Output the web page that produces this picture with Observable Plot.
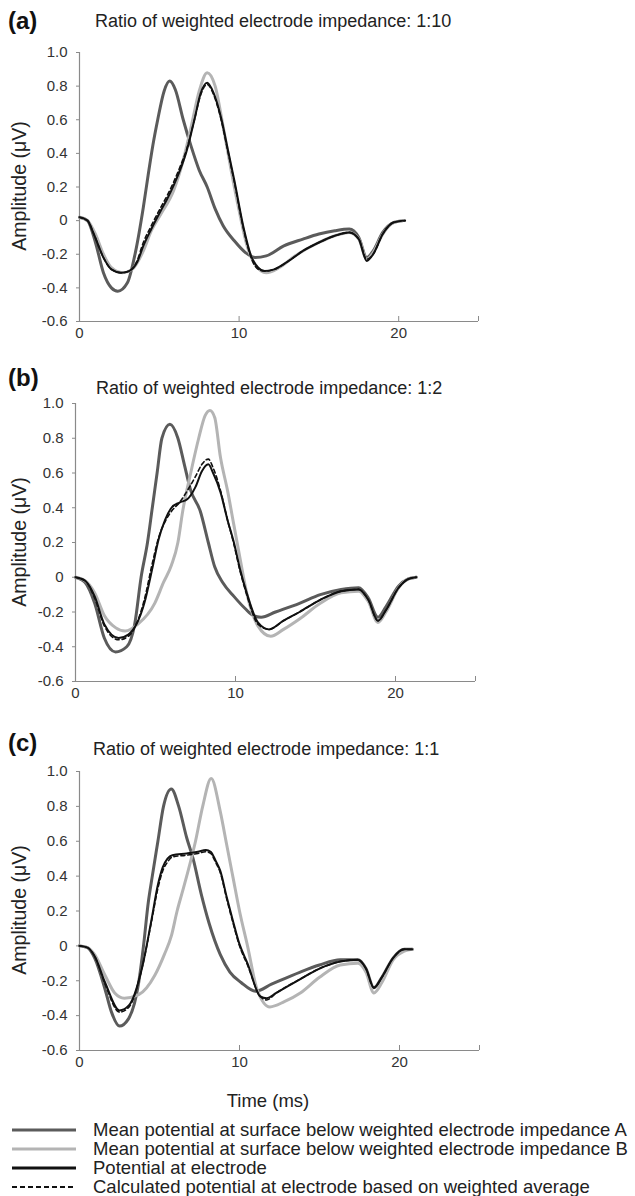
<!DOCTYPE html>
<html><head><meta charset="utf-8">
<script src="https://cdn.jsdelivr.net/npm/d3@7"></script>
<script src="https://cdn.jsdelivr.net/npm/@observablehq/plot@0.6"></script>
<style>
body{margin:0;background:#fff;}
#root{position:relative;width:635px;height:1196px;font-family:Arial,"Liberation Sans",Helvetica,sans-serif;color:#222;overflow:hidden;background:#fff;}
.abs{position:absolute;white-space:nowrap;line-height:1;}
.plabel{font-weight:bold;font-size:24px;color:#111;}
.title{font-size:18px;color:#222;}
.ylab{font-size:19.5px;color:#222;transform:translate(-50%,-50%) rotate(-90deg);}
.leg{font-size:18.5px;color:#222;}
#root svg.plot{position:absolute;left:0;}
</style></head><body><div id="root"></div>
<script>
// ---------- data ----------
const xDomain = [0, 25];
const yDomain = [-0.6, 1.0];
const yTicks = [-0.6, -0.4, -0.2, 0, 0.2, 0.4, 0.6, 0.8, 1.0];
const xTicks = [0, 10, 20, 25];
const xTickLabels = ["0", "10", "20", ""];
const panelLetters = ["(a)", "(b)", "(c)"];
const panelTitles = [
  "Ratio of weighted electrode impedance: 1:10",
  "Ratio of weighted electrode impedance: 1:2",
  "Ratio of weighted electrode impedance: 1:1"
];
const yLabel = "Amplitude (\u03bcV)";
const xLabel = "Time (ms)";
const seriesKeys = ["A", "B", "E", "D"];
const legendLabels = [
  "Mean potential at surface below weighted electrode impedance A",
  "Mean potential at surface below weighted electrode impedance B",
  "Potential at electrode",
  "Calculated potential at electrode based on weighted average"
];

// panel (a) 1:10  [time ms, amplitude uV]
const a_A = [[0,0.02],[0.5,0.0],[1.0,-0.13],[1.5,-0.31],[2.0,-0.40],[2.4,-0.42],[3.0,-0.37],[3.5,-0.19],[4.0,0.08],[4.3,0.27],[4.6,0.45],[4.9,0.6],[5.3,0.77],[5.65,0.83],[6.0,0.78],[6.5,0.6],[7.0,0.44],[7.5,0.3],[8.0,0.2],[8.5,0.07],[9.0,-0.03],[9.7,-0.12],[10.4,-0.19],[11.0,-0.22],[11.7,-0.21],[12.8,-0.15],[14.0,-0.11],[15.0,-0.08],[16.0,-0.06],[16.9,-0.05],[17.5,-0.1],[18.0,-0.22],[18.4,-0.18],[19.0,-0.07],[19.7,-0.01],[20.3,0.0]];
const a_B = [[0,0.02],[0.5,0.0],[1.0,-0.08],[1.5,-0.2],[2.0,-0.28],[2.7,-0.31],[3.3,-0.29],[4.0,-0.18],[4.5,-0.06],[5.1,0.04],[5.9,0.18],[6.5,0.36],[7.0,0.56],[7.5,0.77],[8.0,0.88],[8.5,0.8],[9.0,0.56],[9.5,0.3],[10.0,0.06],[10.5,-0.15],[11.0,-0.26],[11.7,-0.31],[12.5,-0.28],[13.5,-0.21],[15.0,-0.13],[16.0,-0.09],[16.9,-0.07],[17.5,-0.11],[18.0,-0.23],[18.4,-0.19],[19.0,-0.08],[19.7,-0.01],[20.3,0.0]];
const a_E = [[0,0.02],[0.5,0.0],[0.9,-0.08],[1.5,-0.22],[2.0,-0.29],[2.6,-0.31],[3.1,-0.3],[3.6,-0.25],[4.0,-0.15],[4.5,-0.05],[5.1,0.06],[5.5,0.13],[5.9,0.21],[6.3,0.3],[6.7,0.41],[7.2,0.6],[7.6,0.76],[8.0,0.82],[8.4,0.76],[8.9,0.6],[9.3,0.42],[9.7,0.24],[10.3,-0.05],[10.75,-0.21],[11.2,-0.28],[11.6,-0.3],[12.2,-0.29],[13.1,-0.24],[14.0,-0.18],[15.0,-0.13],[16.0,-0.09],[16.9,-0.07],[17.5,-0.11],[18.0,-0.24],[18.4,-0.2],[19.0,-0.08],[19.7,-0.01],[20.4,0.0]];
const a_D = [[0,0.02],[0.5,0.0],[0.9,-0.08],[1.5,-0.22],[2.0,-0.29],[2.6,-0.31],[3.1,-0.3],[3.6,-0.24],[4.0,-0.13],[4.5,-0.03],[5.1,0.08],[5.5,0.15],[5.9,0.23],[6.3,0.32],[6.7,0.42],[7.2,0.6],[7.6,0.75],[8.0,0.81],[8.4,0.75],[8.9,0.59],[9.3,0.41],[9.7,0.23],[10.3,-0.06],[10.75,-0.22],[11.2,-0.29],[11.6,-0.3],[12.2,-0.29],[13.1,-0.24],[14.0,-0.18],[15.0,-0.13],[16.0,-0.09],[16.9,-0.07],[17.5,-0.11],[18.0,-0.23],[18.4,-0.2],[19.0,-0.08],[19.7,-0.01],[20.4,0.0]];

// panel (b) 1:2
const b_A = [[0,0.0],[0.6,-0.03],[1.2,-0.15],[1.8,-0.35],[2.5,-0.43],[3.2,-0.4],[3.7,-0.27],[4.1,0.0],[4.5,0.2],[4.8,0.4],[5.1,0.6],[5.4,0.8],[5.9,0.88],[6.4,0.8],[6.8,0.65],[7.2,0.5],[7.8,0.38],[8.3,0.2],[8.7,0.06],[9.2,-0.03],[9.9,-0.11],[10.6,-0.18],[11.1,-0.22],[11.6,-0.23],[12.5,-0.2],[14.0,-0.15],[15.3,-0.1],[16.6,-0.07],[17.7,-0.06],[18.3,-0.12],[18.9,-0.23],[19.4,-0.17],[20.2,-0.05],[20.8,-0.01],[21.3,0.0]];
const b_B = [[0,0.0],[0.6,-0.02],[1.2,-0.09],[1.8,-0.22],[2.5,-0.29],[3.1,-0.31],[3.9,-0.27],[4.95,-0.15],[5.5,-0.03],[6.0,0.07],[6.4,0.2],[6.7,0.38],[7.2,0.6],[7.7,0.8],[8.1,0.93],[8.4,0.96],[8.7,0.92],[9.06,0.69],[9.5,0.5],[9.9,0.3],[10.3,0.1],[10.7,-0.09],[11.4,-0.28],[12.2,-0.34],[13.0,-0.3],[14.0,-0.24],[15.3,-0.15],[16.6,-0.09],[17.7,-0.08],[18.3,-0.14],[18.9,-0.26],[19.4,-0.2],[20.2,-0.06],[20.8,-0.01],[21.3,0.0]];
const b_E = [[0,0.0],[0.6,-0.02],[1.2,-0.11],[1.8,-0.27],[2.7,-0.35],[3.3,-0.33],[4.3,-0.15],[4.8,0.05],[5.2,0.22],[5.6,0.33],[6.0,0.4],[6.5,0.43],[7.0,0.45],[7.5,0.52],[7.9,0.61],[8.3,0.65],[8.6,0.6],[9.06,0.49],[9.5,0.33],[9.9,0.2],[10.3,0.04],[10.7,-0.09],[11.4,-0.26],[12.1,-0.3],[13.0,-0.25],[14.0,-0.2],[15.3,-0.13],[16.6,-0.08],[17.7,-0.07],[18.3,-0.13],[18.9,-0.25],[19.4,-0.19],[20.2,-0.06],[20.8,-0.01],[21.3,0.0]];
const b_D = [[0,0.0],[0.6,-0.02],[1.2,-0.12],[1.8,-0.28],[2.7,-0.36],[3.3,-0.34],[4.3,-0.13],[4.8,0.08],[5.2,0.23],[5.6,0.32],[6.0,0.38],[6.5,0.43],[7.0,0.5],[7.5,0.58],[7.9,0.65],[8.3,0.68],[8.6,0.63],[9.06,0.5],[9.5,0.33],[9.9,0.19],[10.3,0.03],[10.7,-0.1],[11.4,-0.27],[12.1,-0.3],[13.0,-0.25],[14.0,-0.2],[15.3,-0.13],[16.6,-0.08],[17.7,-0.07],[18.3,-0.13],[18.9,-0.25],[19.4,-0.19],[20.2,-0.06],[20.8,-0.01],[21.3,0.0]];

// panel (c) 1:1
const c_A = [[0,0.0],[0.5,-0.01],[0.95,-0.07],[1.6,-0.25],[2.0,-0.38],[2.5,-0.46],[3.05,-0.42],[3.7,-0.21],[4.0,0.0],[4.3,0.25],[4.55,0.4],[4.9,0.6],[5.25,0.8],[5.74,0.9],[6.2,0.8],[6.7,0.62],[7.1,0.5],[7.6,0.3],[8.1,0.13],[8.8,-0.05],[9.4,-0.15],[10.1,-0.21],[11.0,-0.26],[12.0,-0.22],[13.8,-0.15],[15.0,-0.11],[16.3,-0.08],[17.4,-0.08],[17.9,-0.13],[18.4,-0.24],[18.9,-0.18],[19.6,-0.07],[20.3,-0.02],[20.8,-0.02]];
const c_B = [[0,0.0],[0.5,-0.01],[0.95,-0.05],[1.6,-0.17],[2.2,-0.27],[2.8,-0.3],[3.7,-0.28],[4.7,-0.17],[5.3,-0.05],[5.75,0.06],[6.1,0.2],[6.4,0.3],[6.7,0.4],[7.25,0.6],[7.7,0.8],[8.23,0.96],[8.8,0.77],[9.2,0.58],[9.6,0.39],[10.0,0.2],[10.5,0.0],[11.1,-0.25],[11.9,-0.35],[12.8,-0.32],[13.8,-0.27],[15.0,-0.18],[16.3,-0.11],[17.4,-0.1],[17.9,-0.15],[18.4,-0.27],[18.9,-0.21],[19.6,-0.08],[20.3,-0.03],[20.8,-0.02]];
const c_E = [[0,0.0],[0.5,-0.01],[0.95,-0.06],[1.6,-0.21],[2.5,-0.37],[3.1,-0.34],[3.9,-0.13],[4.5,0.15],[4.9,0.35],[5.2,0.45],[5.5,0.5],[5.8,0.52],[6.7,0.53],[7.4,0.54],[7.9,0.55],[8.2,0.54],[8.5,0.49],[8.8,0.43],[9.2,0.28],[9.6,0.14],[10.0,0.01],[10.5,-0.1],[11.3,-0.29],[11.7,-0.3],[12.3,-0.27],[13.8,-0.19],[15.0,-0.13],[16.3,-0.09],[17.4,-0.08],[17.9,-0.13],[18.4,-0.24],[18.9,-0.18],[19.6,-0.07],[20.3,-0.02],[20.8,-0.02]];
const c_D = [[0,0.0],[0.5,-0.01],[0.95,-0.06],[1.6,-0.22],[2.5,-0.38],[3.1,-0.35],[3.9,-0.13],[4.5,0.14],[4.9,0.33],[5.2,0.43],[5.5,0.48],[5.8,0.51],[6.7,0.52],[7.4,0.53],[7.9,0.54],[8.2,0.53],[8.5,0.48],[8.8,0.42],[9.2,0.27],[9.6,0.13],[10.0,0.0],[10.5,-0.11],[11.3,-0.29],[11.7,-0.31],[12.3,-0.27],[13.8,-0.19],[15.0,-0.13],[16.3,-0.09],[17.4,-0.08],[17.9,-0.13],[18.4,-0.24],[18.9,-0.18],[19.6,-0.07],[20.3,-0.02],[20.8,-0.02]];

const panelData = [
  {A: a_A, B: a_B, E: a_E, D: a_D},
  {A: b_A, B: b_B, E: b_E, D: b_D},
  {A: c_A, B: c_B, E: c_E, D: c_D}
];

// ---------- styles & layout ----------
const FONT = 'Arial, "Liberation Sans", Helvetica, sans-serif';
const seriesStyle = {
  A: {stroke: "#5b5b5b", strokeWidth: 3},
  B: {stroke: "#b4b4b4", strokeWidth: 3},
  E: {stroke: "#111111", strokeWidth: 2},
  D: {stroke: "#111111", strokeWidth: 1.6, strokeDasharray: "4,3"}
};
const layouts = [
  {top: 40,  h: 310, ml: 79, mr: 157, mt: 12, mb: 29, letterTop: 9,   titleTop: 12,  titleLeft: 95, ylabY: 186},
  {top: 390, h: 320, ml: 75, mr: 160, mt: 13, mb: 29, letterTop: 366, titleTop: 379, titleLeft: 96, ylabY: 542},
  {top: 758, h: 321, ml: 79, mr: 156, mt: 13, mb: 29, letterTop: 731, titleTop: 740, titleLeft: 93, ylabY: 910}
];

const root = document.getElementById("root");
const yFmt = d => (d === 0 ? "0" : d.toFixed(1));
const xFmt = d => xTickLabels[xTicks.indexOf(d)];

function addText(cls, text, left, top) {
  const el = document.createElement("div");
  el.className = "abs " + cls;
  el.textContent = text;
  el.style.left = left + "px";
  el.style.top = top + "px";
  root.appendChild(el);
  return el;
}

panelData.forEach((pd, i) => {
  const L = layouts[i];
  const lineMarks = seriesKeys.map(k => Plot.line(pd[k], {x: d => d[0], y: d => d[1], curve: "monotone-x", ...seriesStyle[k]}));
  const svg = Plot.plot({
    width: 635,
    height: L.h,
    marginLeft: L.ml,
    marginRight: L.mr,
    marginTop: L.mt,
    marginBottom: L.mb,
    style: {fontFamily: FONT, fontSize: "15px", color: "#333", background: "transparent", overflow: "visible"},
    x: {domain: xDomain},
    y: {domain: yDomain},
    marks: [
      Plot.ruleY([yDomain[0]], {stroke: "#8a8a8a", strokeWidth: 1.2}),
      Plot.ruleX([xDomain[0]], {stroke: "#8a8a8a", strokeWidth: 1.2}),
      Plot.axisY(yTicks, {tickSize: 3, tickPadding: 9, tickFormat: yFmt, stroke: "#8a8a8a", fill: "#333", label: null, fontSize: 15}),
      Plot.axisX(xTicks, {tickSize: -5, tickPadding: 11, tickFormat: xFmt, stroke: "#8a8a8a", fill: "#333", label: null, fontSize: 15}),
      ...lineMarks
    ]
  });
  svg.classList.add("plot");
  svg.style.top = L.top + "px";
  root.appendChild(svg);
  addText("plabel", panelLetters[i], 8, L.letterTop);
  addText("title", panelTitles[i], L.titleLeft, L.titleTop);
  addText("ylab", yLabel, 20, L.ylabY);
});

// x axis label under panel (c)
const xl = addText("title", xLabel, 268, 1092);
xl.style.fontSize = "18.5px";
xl.style.transform = "translateX(-50%)";

// legend
const NS = "http://www.w3.org/2000/svg";
const legendRowY = [1130, 1149, 1168, 1187];
seriesKeys.forEach((k, i) => {
  const s = document.createElementNS(NS, "svg");
  s.setAttribute("width", 70); s.setAttribute("height", 8);
  s.style.position = "absolute"; s.style.left = "10px"; s.style.top = (legendRowY[i] - 4) + "px";
  const ln = document.createElementNS(NS, "line");
  ln.setAttribute("x1", 2); ln.setAttribute("x2", 66); ln.setAttribute("y1", 4); ln.setAttribute("y2", 4);
  const st = seriesStyle[k];
  ln.setAttribute("stroke", st.stroke);
  ln.setAttribute("stroke-width", k === "D" ? 2.2 : 3);
  if (st.strokeDasharray) ln.setAttribute("stroke-dasharray", "5,3");
  s.appendChild(ln);
  root.appendChild(s);
  addText("leg", legendLabels[i], 93, legendRowY[i] - 9);
});
</script></body></html>
